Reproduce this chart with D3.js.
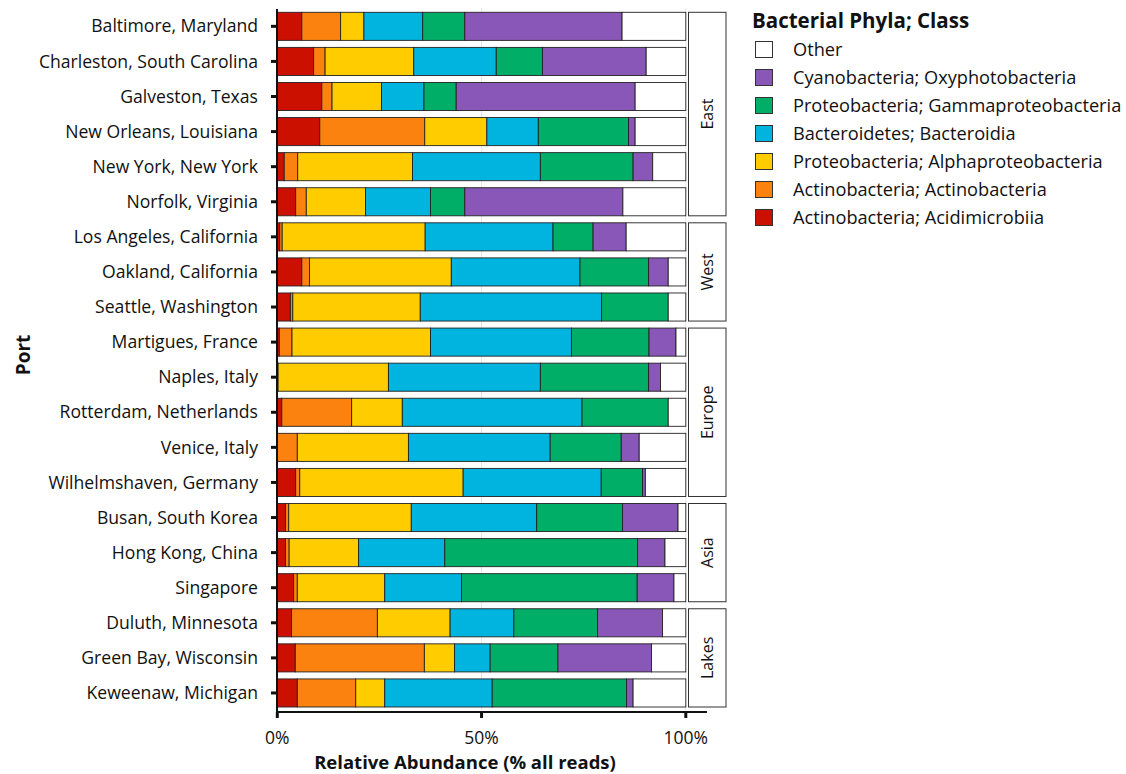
<!DOCTYPE html>
<html>
<head>
<meta charset="utf-8">
<script src="https://cdn.jsdelivr.net/npm/d3@7"></script>
<style>
  body { margin: 0; background: white; }
  text { font-family: "Open Sans", "Noto Sans", sans-serif; fill: #111; }
</style>
</head>
<body>
<div id="chart"></div>
<script>
const ports = [
  'Baltimore, Maryland', 'Charleston, South Carolina', 'Galveston, Texas',
  'New Orleans, Louisiana', 'New York, New York', 'Norfolk, Virginia',
  'Los Angeles, California', 'Oakland, California', 'Seattle, Washington',
  'Martigues, France', 'Naples, Italy', 'Rotterdam, Netherlands',
  'Venice, Italy', 'Wilhelmshaven, Germany',
  'Busan, South Korea', 'Hong Kong, China', 'Singapore',
  'Duluth, Minnesota', 'Green Bay, Wisconsin', 'Keweenaw, Michigan',
];
const regions = [
  'East', 'East', 'East', 'East', 'East', 'East',
  'West', 'West', 'West',
  'Europe', 'Europe', 'Europe', 'Europe', 'Europe',
  'Asia', 'Asia', 'Asia',
  'Lakes', 'Lakes', 'Lakes',
];

// % of reads per class, same order as ports
const acidimicrobiia = [6.0, 8.9, 10.9, 10.4, 1.7, 4.5, 0.6, 6.0, 3.2, 0.5, 0, 1.1, 0, 4.5, 2.0, 2.0, 4.0, 3.5, 4.4, 4.9];
const actinobacteria = [9.5, 2.8, 2.5, 25.7, 3.3, 2.6, 0.6, 1.9, 0.6, 3.1, 0.2, 17.1, 4.9, 1.0, 0.8, 0.9, 0.9, 21.0, 31.6, 14.3];
const alphaproteo = [5.7, 21.7, 12.1, 15.2, 28.1, 14.5, 35.0, 34.7, 31.2, 33.9, 27.0, 12.4, 27.2, 40.0, 30.0, 17.0, 21.4, 17.8, 7.4, 7.1];
const bacteroidia = [14.4, 20.2, 10.4, 12.6, 31.3, 15.9, 31.3, 31.5, 44.4, 34.5, 37.2, 44.0, 34.7, 33.8, 30.7, 21.1, 18.8, 15.6, 8.7, 26.3];
const gammaproteo = [10.3, 11.3, 7.9, 22.1, 22.7, 8.4, 9.8, 16.8, 16.3, 19.0, 26.5, 21.1, 17.4, 10.1, 21.0, 47.2, 43.0, 20.5, 16.6, 32.9];
const oxyphoto = [38.5, 25.4, 43.8, 1.6, 4.8, 38.7, 8.1, 4.8, 0, 6.6, 2.9, 0, 4.4, 0.7, 13.6, 6.7, 9.0, 15.9, 22.9, 1.6];

const classKeys = ['acid', 'actino', 'alpha', 'bact', 'gamma', 'oxy', 'other'];
const classLabels = [
  'Actinobacteria; Acidimicrobiia', 'Actinobacteria; Actinobacteria',
  'Proteobacteria; Alphaproteobacteria', 'Bacteroidetes; Bacteroidia',
  'Proteobacteria; Gammaproteobacteria', 'Cyanobacteria; Oxyphotobacteria', 'Other',
];
const classColors = ['#CB1000', '#FC820F', '#FFCC00', '#00B4E0', '#00AE68', '#8857B8', '#FFFFFF'];

const xTicks = [0, 50, 100];

const width = 1126;
const height = 774;

const rows = ports.map((port, i) => {
  const row = {
    port,
    region: regions[i],
    acid: acidimicrobiia[i],
    actino: actinobacteria[i],
    alpha: alphaproteo[i],
    bact: bacteroidia[i],
    gamma: gammaproteo[i],
    oxy: oxyphoto[i],
  };
  row.other = Math.max(0, 100 - (row.acid + row.actino + row.alpha + row.bact + row.gamma + row.oxy));
  return row;
});

const svg = d3
  .select('#chart')
  .append('svg')
  .attr('width', width)
  .attr('height', height);

const x = d3.scaleLinear().domain([0, 100]).range([277.3, 685.8]);
const y = d3
  .scaleBand()
  .domain(ports)
  .range([12.3, 707])
  .paddingInner(0.2)
  .paddingOuter(0);

const color = d3.scaleOrdinal().domain(classKeys).range(classColors);

// grid
svg
  .append('g')
  .selectAll('line')
  .data([50, 100])
  .join('line')
  .attr('x1', (d) => x(d))
  .attr('x2', (d) => x(d))
  .attr('y1', 8)
  .attr('y2', 710)
  .attr('stroke', '#e4e4e4')
  .attr('stroke-width', 1);

// stacked bars
const series = d3.stack().keys(classKeys)(rows);

svg
  .append('g')
  .selectAll('g')
  .data(series)
  .join('g')
  .attr('fill', (d) => color(d.key))
  .selectAll('rect')
  .data((d) => d.filter((s) => s[1] - s[0] > 0))
  .join('rect')
  .attr('x', (d) => x(d[0]))
  .attr('width', (d) => x(d[1]) - x(d[0]))
  .attr('y', (d) => y(d.data.port))
  .attr('height', y.bandwidth())
  .attr('stroke', '#222')
  .attr('stroke-width', 0.9);

// facet strips
const regionNames = Array.from(new Set(regions));
const strips = svg.append('g');
regionNames.forEach((name) => {
  const members = ports.filter((p, i) => regions[i] === name);
  const top = y(members[0]);
  const bottom = y(members[members.length - 1]) + y.bandwidth();
  strips
    .append('rect')
    .attr('x', 688.5)
    .attr('y', top)
    .attr('width', 37.5)
    .attr('height', bottom - top)
    .attr('fill', 'white')
    .attr('stroke', '#333')
    .attr('stroke-width', 1);
  strips
    .append('text')
    .attr('transform', `translate(713,${(top + bottom) / 2}) rotate(-90)`)
    .attr('text-anchor', 'middle')
    .attr('font-size', 16)
    .text(name);
});

// left axis
const yAxis = svg.append('g');
yAxis
  .append('line')
  .attr('x1', 277)
  .attr('x2', 277)
  .attr('y1', 9)
  .attr('y2', 712)
  .attr('stroke', '#111')
  .attr('stroke-width', 2);
yAxis
  .selectAll('.tick')
  .data(ports)
  .join('line')
  .attr('x1', 271)
  .attr('x2', 277)
  .attr('y1', (d) => y(d) + y.bandwidth() / 2)
  .attr('y2', (d) => y(d) + y.bandwidth() / 2)
  .attr('stroke', '#111')
  .attr('stroke-width', 3);
yAxis
  .selectAll('text')
  .data(ports)
  .join('text')
  .attr('x', 258)
  .attr('y', (d) => y(d) + y.bandwidth() / 2)
  .attr('dy', '0.35em')
  .attr('text-anchor', 'end')
  .attr('font-size', 17.6)
  .text((d) => d);

// bottom axis
const xAxis = svg.append('g');
xAxis
  .append('line')
  .attr('x1', 276)
  .attr('x2', 707)
  .attr('y1', 712)
  .attr('y2', 712)
  .attr('stroke', '#111')
  .attr('stroke-width', 2);
xAxis
  .selectAll('.tick')
  .data(xTicks)
  .join('line')
  .attr('x1', (d) => x(d))
  .attr('x2', (d) => x(d))
  .attr('y1', 712)
  .attr('y2', 718)
  .attr('stroke', '#111')
  .attr('stroke-width', 3);
xAxis
  .selectAll('text')
  .data(xTicks)
  .join('text')
  .attr('x', (d) => x(d))
  .attr('y', 744)
  .attr('text-anchor', 'middle')
  .attr('font-size', 17.5)
  .text((d) => `${d}%`);

// axis titles
svg
  .append('text')
  .attr('x', 465)
  .attr('y', 768.5)
  .attr('text-anchor', 'middle')
  .attr('font-size', 18.5)
  .attr('font-weight', 'bold')
  .text('Relative Abundance (% all reads)');

svg
  .append('text')
  .attr('transform', 'translate(30,355) rotate(-90)')
  .attr('text-anchor', 'middle')
  .attr('font-size', 19)
  .attr('font-weight', 'bold')
  .text('Port');

// legend (reversed order, Other on top)
const legend = svg.append('g').attr('transform', 'translate(752,0)');
legend
  .append('text')
  .attr('x', 0)
  .attr('y', 28)
  .attr('font-size', 20.5)
  .attr('font-weight', 'bold')
  .text('Bacterial Phyla; Class');

const legendItems = classKeys.map((k, i) => ({ key: k, label: classLabels[i] })).reverse();
const item = legend
  .selectAll('.item')
  .data(legendItems)
  .join('g')
  .attr('transform', (d, i) => `translate(0,${41 + i * 28})`);
item
  .append('rect')
  .attr('x', 3.5)
  .attr('y', 0.5)
  .attr('width', 17)
  .attr('height', 16)
  .attr('fill', (d) => color(d.key))
  .attr('stroke', '#333')
  .attr('stroke-width', 1);
item
  .append('text')
  .attr('x', 41)
  .attr('y', 8.5)
  .attr('dy', '0.35em')
  .attr('font-size', 18.2)
  .text((d) => d.label);
</script>
</body>
</html>
